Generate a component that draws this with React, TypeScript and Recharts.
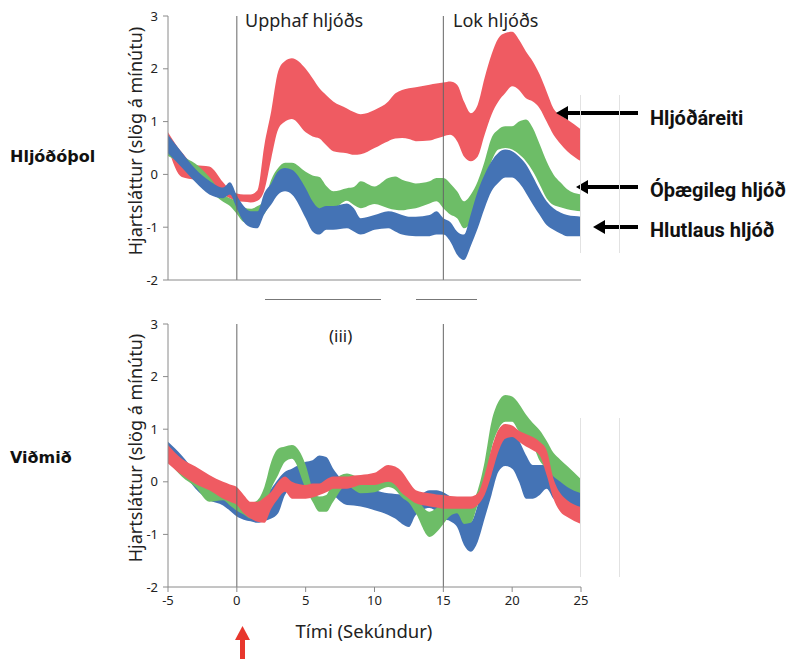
import React from 'react';
import { AreaChart, Area, XAxis, YAxis, ReferenceLine } from 'recharts';

// time in seconds (shared by every band)
const TIME = [-5, -4, -3, -2, -1, -0.5, 0, 0.5, 1, 1.5, 2, 2.5, 3, 3.5, 4, 5, 5.5, 6, 6.5, 7, 8, 8.5, 9, 10, 11, 11.5, 12, 12.5, 13, 14, 14.5, 15, 15.5, 16, 16.5, 17, 17.5, 18, 18.5, 19, 19.5, 20, 20.5, 21, 21.5, 22, 22.5, 23, 23.5, 24, 25];

// Hljóðóþol (top panel) – lower / upper edge of each band
const TOP_RED_LO = [0.5, -0.05, -0.1, -0.12, -0.38, -0.45, -0.5, -0.52, -0.53, -0.5, -0.3, 0.3, 0.85, 1.0, 1.05, 0.8, 0.72, 0.68, 0.55, 0.44, 0.4, 0.37, 0.38, 0.5, 0.63, 0.68, 0.69, 0.67, 0.63, 0.64, 0.68, 0.72, 0.75, 0.63, 0.34, 0.25, 0.34, 0.75, 1.13, 1.38, 1.54, 1.67, 1.6, 1.44, 1.38, 1.25, 1.0, 0.75, 0.58, 0.44, 0.25];
const TOP_RED_HI = [0.8, 0.42, 0.18, 0.15, -0.15, -0.3, -0.36, -0.38, -0.38, -0.3, 0.55, 1.2, 1.95, 2.15, 2.2, 2.0, 1.82, 1.63, 1.5, 1.38, 1.25, 1.18, 1.14, 1.22, 1.38, 1.53, 1.6, 1.63, 1.65, 1.7, 1.72, 1.74, 1.76, 1.7, 1.38, 1.16, 1.32, 1.83, 2.27, 2.58, 2.68, 2.7, 2.55, 2.33, 2.14, 1.89, 1.57, 1.25, 1.12, 1.04, 0.85];
const TOP_GREEN_LO = [0.35, 0.2, 0.0, -0.3, -0.52, -0.6, -0.75, -0.9, -0.92, -0.85, -0.75, -0.5, -0.3, -0.2, -0.2, -0.4, -0.6, -0.65, -0.64, -0.64, -0.5, -0.58, -0.64, -0.56, -0.64, -0.67, -0.68, -0.66, -0.64, -0.55, -0.51, -0.64, -0.76, -0.83, -1.02, -0.9, -0.51, -0.13, 0.25, 0.47, 0.5, 0.47, 0.38, 0.25, 0.06, -0.19, -0.45, -0.58, -0.62, -0.66, -0.7];
const TOP_GREEN_HI = [0.5, 0.35, 0.2, -0.05, -0.38, -0.45, -0.5, -0.62, -0.65, -0.6, -0.5, -0.1, 0.12, 0.22, 0.22, 0.05, -0.02, -0.05, -0.22, -0.32, -0.26, -0.24, -0.13, -0.23, -0.07, -0.04, -0.1, -0.14, -0.17, -0.13, -0.07, -0.07, -0.17, -0.32, -0.51, -0.38, -0.13, 0.25, 0.69, 0.85, 0.91, 0.91, 1.0, 1.04, 0.88, 0.57, 0.25, 0.0, -0.15, -0.28, -0.38];
const TOP_BLUE_LO = [0.4, 0.13, -0.15, -0.38, -0.45, -0.38, -0.65, -0.9, -1.0, -1.02, -0.75, -0.57, -0.38, -0.32, -0.38, -0.83, -1.08, -1.14, -1.05, -1.05, -1.02, -1.08, -1.14, -1.05, -1.02, -1.08, -1.14, -1.16, -1.17, -1.17, -1.14, -1.14, -1.27, -1.52, -1.62, -1.35, -1.02, -0.64, -0.32, -0.16, -0.06, -0.06, -0.16, -0.35, -0.57, -0.77, -0.96, -1.05, -1.12, -1.17, -1.17];
const TOP_BLUE_HI = [0.75, 0.42, 0.1, -0.12, -0.25, -0.15, -0.4, -0.6, -0.7, -0.7, -0.35, -0.17, 0.06, 0.12, 0.09, -0.26, -0.51, -0.64, -0.6, -0.6, -0.55, -0.64, -0.83, -0.77, -0.7, -0.72, -0.77, -0.8, -0.8, -0.77, -0.7, -0.83, -0.9, -1.08, -1.14, -0.75, -0.32, 0.0, 0.25, 0.41, 0.47, 0.44, 0.34, 0.19, -0.04, -0.29, -0.51, -0.64, -0.72, -0.77, -0.8];

// Viðmið (bottom panel)
const BOT_RED_LO = [0.35, 0.13, -0.04, -0.16, -0.32, -0.38, -0.44, -0.6, -0.7, -0.76, -0.78, -0.51, -0.32, -0.19, -0.32, -0.32, -0.3, -0.25, -0.2, -0.13, -0.13, -0.1, -0.06, -0.06, 0.0, -0.06, -0.22, -0.32, -0.41, -0.47, -0.49, -0.51, -0.51, -0.51, -0.51, -0.51, -0.44, -0.25, 0.13, 0.57, 0.82, 0.85, 0.76, 0.67, 0.6, 0.5, 0.13, -0.32, -0.57, -0.67, -0.8];
const BOT_RED_HI = [0.7, 0.44, 0.29, 0.13, 0.0, -0.05, -0.1, -0.25, -0.38, -0.38, -0.3, -0.19, 0.0, 0.1, 0.0, -0.06, -0.03, -0.03, 0.05, 0.1, 0.1, 0.12, 0.13, 0.17, 0.32, 0.29, 0.19, 0.0, -0.16, -0.22, -0.24, -0.25, -0.27, -0.28, -0.28, -0.28, -0.22, 0.13, 0.63, 0.99, 1.1, 1.07, 0.97, 0.91, 0.85, 0.76, 0.6, 0.06, -0.22, -0.35, -0.48];
const BOT_GREEN_LO = [0.4, 0.1, -0.1, -0.38, -0.35, -0.45, -0.55, -0.62, -0.7, -0.7, -0.5, -0.13, 0.13, 0.38, 0.44, -0.13, -0.38, -0.57, -0.57, -0.38, -0.06, -0.15, -0.22, -0.2, -0.1, -0.15, -0.3, -0.4, -0.6, -1.05, -0.96, -0.8, -0.65, -0.6, -0.8, -0.78, -0.44, -0.13, 0.63, 1.0, 1.14, 1.14, 0.95, 0.85, 0.7, 0.4, 0.25, 0.1, 0.0, -0.1, -0.22];
const BOT_GREEN_HI = [0.62, 0.35, 0.15, -0.13, -0.05, -0.15, -0.25, -0.32, -0.4, -0.35, -0.1, 0.38, 0.63, 0.67, 0.7, 0.32, -0.13, -0.28, -0.25, 0.0, 0.16, 0.12, 0.05, 0.0, 0.1, 0.08, -0.05, -0.15, -0.3, -0.57, -0.5, -0.38, -0.32, -0.3, -0.5, -0.4, -0.16, 0.38, 1.14, 1.52, 1.65, 1.62, 1.48, 1.28, 1.12, 0.98, 0.78, 0.55, 0.42, 0.3, 0.05];
const BOT_BLUE_LO = [0.44, 0.2, -0.13, -0.35, -0.45, -0.55, -0.66, -0.72, -0.75, -0.78, -0.75, -0.7, -0.6, -0.25, -0.13, -0.13, -0.1, -0.13, -0.13, -0.25, -0.44, -0.45, -0.47, -0.54, -0.63, -0.7, -0.8, -0.86, -0.63, -0.5, -0.57, -0.7, -0.75, -0.86, -1.2, -1.33, -1.14, -0.7, -0.25, 0.19, 0.3, 0.25, 0.0, -0.32, -0.32, -0.25, -0.13, -0.32, -0.4, -0.51, -0.51];
const BOT_BLUE_HI = [0.76, 0.5, 0.19, -0.05, -0.2, -0.28, -0.35, -0.42, -0.45, -0.42, -0.3, -0.13, 0.05, 0.19, 0.25, 0.38, 0.41, 0.5, 0.47, 0.25, -0.03, -0.06, -0.1, -0.16, -0.22, -0.23, -0.25, -0.32, -0.3, -0.16, -0.16, -0.2, -0.28, -0.38, -0.7, -0.76, -0.44, 0.06, 0.5, 0.9, 1.0, 0.95, 0.78, 0.51, 0.32, 0.32, 0.32, 0.28, 0.2, 0.13, -0.22];

const X_TICKS = [-5, 0, 5, 10, 15, 20, 25];
const Y_TICKS = [-2, -1, 0, 1, 2, 3];

const RED = '#ef5b62';
const GREEN = '#6dbd67';
const BLUE = '#4473b5';
const AXIS = '#8a8a8a';
const FONT = '"Noto Sans", "DejaVu Sans", sans-serif';

const topData = TIME.map((t, i) => ({
  t,
  red: [TOP_RED_LO[i], TOP_RED_HI[i]],
  green: [TOP_GREEN_LO[i], TOP_GREEN_HI[i]],
  blue: [TOP_BLUE_LO[i], TOP_BLUE_HI[i]],
}));

const botData = TIME.map((t, i) => ({
  t,
  red: [BOT_RED_LO[i], BOT_RED_HI[i]],
  green: [BOT_GREEN_LO[i], BOT_GREEN_HI[i]],
  blue: [BOT_BLUE_LO[i], BOT_BLUE_HI[i]],
}));

const band = (key: string, color: string) => (
  <Area
    key={key}
    dataKey={key}
    type="monotone"
    stroke="none"
    fill={color}
    fillOpacity={1}
    isAnimationActive={false}
    dot={false}
    activeDot={false}
  />
);

const Arrow = ({ x1, x2, y }: { x1: number; x2: number; y: number }) => (
  <g>
    <line x1={x1} y1={y} x2={x2 + 10} y2={y} stroke="#000" strokeWidth={4} />
    <polygon points={`${x2},${y} ${x2 + 12},${y - 7} ${x2 + 12},${y + 7}`} fill="#000" />
  </g>
);

export default function App() {
  const tickStyle = { fontSize: 13, fill: '#222', fontFamily: FONT };
  return (
    <div style={{ position: 'absolute', left: 0, top: 0, width: 788, height: 659, background: '#fff', overflow: 'hidden' }}>
      {/* Hljóðóþol */}
      <div style={{ position: 'absolute', left: 0, top: 0 }}>
        <AreaChart width={788} height={300} data={topData} margin={{ top: 16, right: 207, bottom: 0, left: 123 }}>
          <XAxis dataKey="t" type="number" domain={[-5, 25]} ticks={X_TICKS} tick={false} height={20}
            axisLine={{ stroke: AXIS }} tickLine={{ stroke: AXIS }} tickSize={5} />
          <YAxis type="number" domain={[-2, 3]} ticks={Y_TICKS} width={45} tick={tickStyle}
            axisLine={{ stroke: AXIS }} tickLine={{ stroke: AXIS }} tickSize={5} tickMargin={5} />
          {band('red', RED)}
          {band('green', GREEN)}
          {band('blue', BLUE)}
          <ReferenceLine x={0} stroke="#666" strokeWidth={1} />
          <ReferenceLine x={15} stroke="#666" strokeWidth={1} />
        </AreaChart>
      </div>

      {/* Viðmið */}
      <div style={{ position: 'absolute', left: 0, top: 300 }}>
        <AreaChart width={788} height={320} data={botData} margin={{ top: 24, right: 207, bottom: 0, left: 123 }}>
          <XAxis dataKey="t" type="number" domain={[-5, 25]} ticks={X_TICKS} tick={tickStyle} height={33}
            axisLine={{ stroke: AXIS }} tickLine={{ stroke: AXIS }} tickSize={5} tickMargin={4} />
          <YAxis type="number" domain={[-2, 3]} ticks={Y_TICKS} width={45} tick={tickStyle}
            axisLine={{ stroke: AXIS }} tickLine={{ stroke: AXIS }} tickSize={5} tickMargin={5} />
          {band('blue', BLUE)}
          {band('green', GREEN)}
          {band('red', RED)}
          <ReferenceLine x={0} stroke="#666" strokeWidth={1} />
          <ReferenceLine x={15} stroke="#666" strokeWidth={1} />
        </AreaChart>
      </div>

      {/* annotations */}
      <svg width={788} height={659} style={{ position: 'absolute', left: 0, top: 0, pointerEvents: 'none' }}>
        <g fontFamily={FONT} fill="#222">
          <text x={245} y={27} fontSize={18}>Upphaf hljóðs</text>
          <text x={453} y={27} fontSize={18}>Lok hljóðs</text>
          <text x={329} y={342} fontSize={17}>(iii)</text>
          <text x={364} y={638} fontSize={18.5} textAnchor="middle">Tími (Sekúndur)</text>
          <text transform="translate(142,141) rotate(-90)" fontSize={18} textAnchor="middle">Hjartsláttur (slög á mínútu)</text>
          <text transform="translate(142,448) rotate(-90)" fontSize={18} textAnchor="middle">Hjartsláttur (slög á mínútu)</text>
        </g>
        <g fontFamily='"DejaVu Sans", sans-serif' fontWeight="bold" fontSize={16} fill="#111">
          <text x={10} y={162}>Hljóðóþol</text>
          <text x={10} y={463}>Viðmið</text>
        </g>
        <g fontFamily='Roboto, "Noto Sans", sans-serif' fontWeight="bold" fontSize={20} fill="#111">
          <text x={650} y={125}>Hljóðáreiti</text>
          <text x={650} y={197}>Óþægileg hljóð</text>
          <text x={650} y={237}>Hlutlaus hljóð</text>
        </g>
        <Arrow x1={638} x2={556} y={113} />
        <Arrow x1={638} x2={576} y={187} />
        <Arrow x1={638} x2={593} y={227} />
        <g fill="#e8372d">
          <rect x={240} y={638} width={5} height={21} />
          <polygon points="242.5,626 235,640 250,640" />
        </g>
        <g stroke="#777" strokeWidth={1}>
          <line x1={265} y1={299.5} x2={381} y2={299.5} />
          <line x1={416} y1={299.5} x2={477} y2={299.5} />
        </g>
        <g stroke="#e2e2e2" strokeWidth={1}>
          <line x1={580.5} y1={95} x2={580.5} y2={253} />
          <line x1={619.5} y1={95} x2={619.5} y2={253} />
          <line x1={580.5} y1={418} x2={580.5} y2={577} />
          <line x1={619.5} y1={418} x2={619.5} y2={577} />
        </g>
      </svg>
    </div>
  );
}
